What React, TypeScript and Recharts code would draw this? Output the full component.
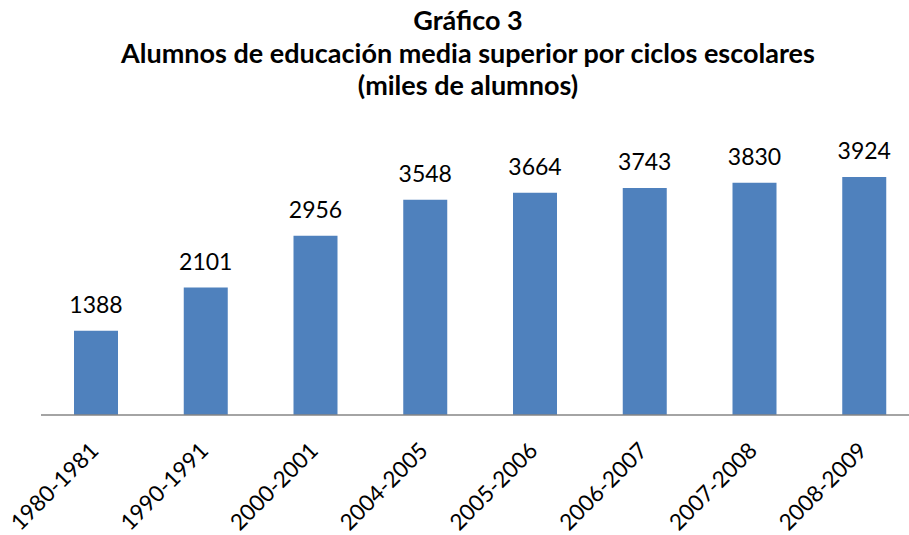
import { BarChart, Bar, XAxis, YAxis, LabelList } from "recharts";

const categories = [
  "1980-1981",
  "1990-1991",
  "2000-2001",
  "2004-2005",
  "2005-2006",
  "2006-2007",
  "2007-2008",
  "2008-2009",
];
const students = [1388, 2101, 2956, 3548, 3664, 3743, 3830, 3924];
const titleLines = [
  "Gráfico 3",
  "Alumnos de educación media superior por ciclos escolares",
  "(miles de alumnos)",
];

const data = categories.map((ciclo, i) => ({ ciclo, alumnos: students[i] }));

const FONT = "Lato, 'Open Sans', sans-serif";

function CycleTick({ x, y, payload }: any) {
  const tx = x + 4;
  const ty = y + 29;
  return (
    <text
      x={tx}
      y={ty}
      transform={`rotate(-45, ${tx}, ${ty})`}
      textAnchor="end"
      fontSize={22.5}
      fontFamily={FONT}
      fill="#000"
    >
      {payload.value}
    </text>
  );
}

export default function App() {
  return (
    <div
      style={{
        position: "absolute",
        left: 0,
        top: 0,
        width: 909,
        height: 535,
        overflow: "hidden",
        background: "#fff",
      }}
    >
      <svg
        width={909}
        height={110}
        style={{ position: "absolute", left: 0, top: 0 }}
      >
        {titleLines.map((line, i) => (
          <text
            key={i}
            x={468}
            y={30 + i * 32.5}
            textAnchor="middle"
            fontSize={27}
            fontWeight={700}
            fontFamily={FONT}
            fill="#000"
          >
            {line}
          </text>
        ))}
      </svg>
      <BarChart
        width={930}
        height={535}
        data={data}
        margin={{ top: 142, right: 11, bottom: 0, left: 41 }}
      >
        <XAxis
          dataKey="ciclo"
          height={120}
          interval={0}
          axisLine={{ stroke: "#868686", strokeWidth: 1.5 }}
          tickLine={false}
          tick={<CycleTick />}
        />
        <YAxis hide domain={[0, 4500]} />
        <Bar
          dataKey="alumnos"
          fill="#4F81BD"
          barSize={44}
          isAnimationActive={false}
        >
          <LabelList
            dataKey="alumnos"
            position="top"
            offset={18}
            fill="#000"
            fontSize={23}
            fontFamily={FONT}
          />
        </Bar>
      </BarChart>
    </div>
  );
}
